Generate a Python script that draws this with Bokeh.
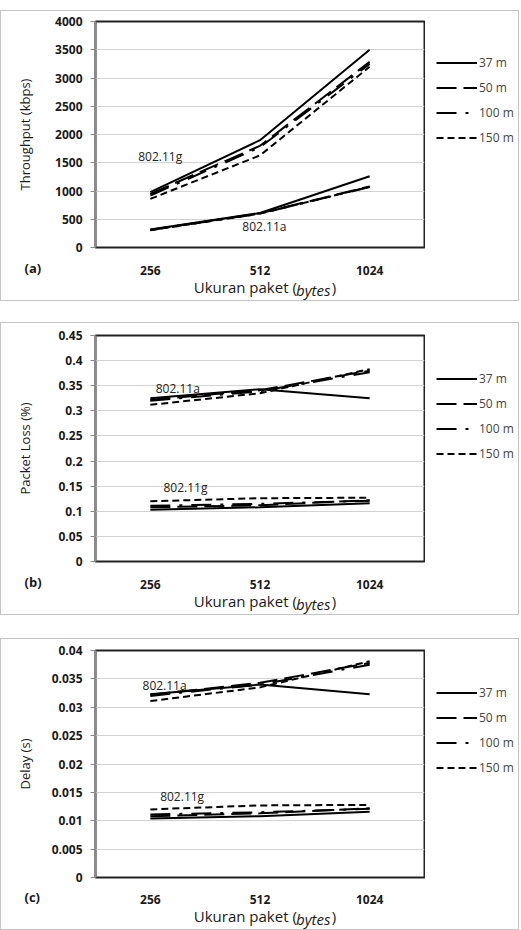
from bokeh.plotting import figure
from bokeh.models import (FixedTicker, CustomJSTickFormatter, Legend, LegendItem,
                          Label, Range1d, Spacer, LinearAxis, Title)
from bokeh.layouts import column, row
from bokeh.embed import file_html
from bokeh.resources import INLINE

# ---------------- data ----------------
packet_sizes = ["256", "512", "1024"]
distances = ["37 m", "50 m", "100 m", "150 m"]

# Throughput (kbps), rows = distances
thr_g = [[980, 1900, 3500], [950, 1800, 3285], [920, 1775, 3250], [860, 1630, 3200]]
thr_a = [[320, 610, 1260], [315, 605, 1080], [310, 600, 1070], [305, 600, 1075]]

# Packet loss (%)
loss_a = [[0.325, 0.343, 0.325], [0.322, 0.341, 0.380], [0.320, 0.339, 0.377], [0.312, 0.335, 0.383]]
loss_g = [[0.103, 0.108, 0.116], [0.108, 0.112, 0.122], [0.111, 0.115, 0.121], [0.120, 0.126, 0.127]]

# Delay (s)
delay_a = [[0.0323, 0.0340, 0.0323], [0.0322, 0.0343, 0.0378], [0.0320, 0.0340, 0.0375], [0.0311, 0.0335, 0.0381]]
delay_g = [[0.0104, 0.0108, 0.0116], [0.0108, 0.0113, 0.0122], [0.0111, 0.0115, 0.0121], [0.0120, 0.0127, 0.0128]]

y_max = [4000, 0.45, 0.04]
y_step = [500, 0.05, 0.005]
y_titles = ["Throughput (kbps)", "Packet Loss (%)", "Delay (s)"]
panel_tags = ["(a)", "(b)", "(c)"]
x_title = ["Ukuran paket (", "bytes", ")"]

# ---------------- styling ----------------
dashes = ["solid", "20 7", "20 9 3 9", "7 4"]
FONT = "Open Sans"
FRAME_W = 329
ML = 94
MR = 2
W_MAIN = ML + FRAME_W + MR
W_LEG = 94
TXT = "#1a1a1a"
BORDER = "1px solid #c4c4c4"
BELOW = 52  # height taken by the stacked x-axis rows


def make_panel(series_up, series_low, ymax, ystep, ytitle, tag, std_up, std_low,
               pos_up, pos_low, top, frame_h, standoff, legend_top,
               tag_gap, title_shift):
    canvas_h = top + frame_h + BELOW
    n_cat = len(packet_sizes)
    # the 1px border is drawn inside the element, so add it to the height
    p = figure(width=W_MAIN, height=canvas_h + 2, output_backend="svg", toolbar_location=None,
               x_range=Range1d(0, n_cat), y_range=Range1d(0, ymax),
               min_border_left=ML, min_border_right=MR,
               min_border_top=top, min_border_bottom=0)
    p.styles = {"border": BORDER, "border-right": "none"}
    xs = [i + 0.5 for i in range(n_cat)]

    for k in range(len(distances)):
        p.line(xs, series_up[k], line_color="black", line_width=2, line_dash=dashes[k])
        p.line(xs, series_low[k], line_color="black", line_width=2, line_dash=dashes[k])

    # x axis: category labels
    xaxis = p.xaxis[0]
    xaxis.ticker = FixedTicker(ticks=xs)
    xaxis.major_label_overrides = dict(zip(xs, packet_sizes))
    xaxis.axis_line_color = None
    xaxis.major_tick_line_color = None
    xaxis.major_tick_out = 0
    xaxis.major_tick_in = 0
    xaxis.minor_tick_line_color = None

    n = int(round(ymax / ystep))
    p.yaxis.ticker = FixedTicker(ticks=[round(i * ystep, 6) for i in range(n + 1)])
    p.yaxis.formatter = CustomJSTickFormatter(code="return String(Math.round(tick*1e6)/1e6)")
    p.yaxis.axis_line_color = "#8a8a8a"
    p.yaxis.axis_line_width = 2
    p.yaxis.major_tick_line_color = "#8a8a8a"
    p.yaxis.major_tick_in = 0
    p.yaxis.major_tick_out = 5
    p.yaxis.minor_tick_line_color = None
    p.yaxis.major_label_standoff = 8
    for ax in (p.xaxis, p.yaxis):
        ax.major_label_text_font = FONT
        ax.major_label_text_font_style = "bold"
        ax.major_label_text_font_size = "12px"
        ax.major_label_text_color = TXT
    p.yaxis.axis_label = ytitle
    p.yaxis.axis_label_text_font = FONT
    p.yaxis.axis_label_text_font_style = "normal"
    p.yaxis.axis_label_text_font_size = "13px"
    p.yaxis.axis_label_text_color = TXT
    p.yaxis.axis_label_standoff = standoff

    # panel tag "(a)" as a left-aligned title right under the plot area
    tag_title = Title(text=tag, align="left", offset=-71, standoff=tag_gap,
                      vertical_align="bottom", text_font=FONT, text_font_size="13px",
                      text_font_style="bold", text_color=TXT)
    # pull the category labels back up onto the tag's row
    xaxis.major_label_standoff = -20

    # x-axis title from two label-only axes (plain part + italic part on the same row)
    px_per_x = FRAME_W / n_cat
    fs = 15
    w_plain, w_ital, w_close = 6.845 * fs, 2.354 * fs, 0.275 * fs
    total = w_plain + w_ital + w_close
    start = (264.5 - 95) - total / 2
    c1 = round((start + w_plain / 2) / px_per_x, 4)
    c2 = round((start + w_plain - 1 + w_ital / 2) / px_per_x, 4)
    c3 = round((start + w_plain + w_ital + w_close / 2) / px_per_x, 4)
    xa_plain = LinearAxis(ticker=FixedTicker(ticks=[c1, c3]),
                          major_label_overrides={c1: x_title[0], c3: x_title[2]})
    xa_ital = LinearAxis(ticker=FixedTicker(ticks=[c2]),
                         major_label_overrides={c2: x_title[1]})
    for ax, style in ((xa_plain, "normal"), (xa_ital, "italic")):
        ax.axis_line_color = None
        ax.major_tick_line_color = None
        ax.minor_tick_line_color = None
        ax.major_tick_in = 0
        ax.major_tick_out = 0
        ax.major_label_text_font = FONT
        ax.major_label_text_font_size = f"{fs}px"
        ax.major_label_text_font_style = style
        ax.major_label_text_color = TXT
    xa_plain.major_label_standoff = title_shift
    xa_ital.major_label_standoff = -20
    p.below = [tag_title, xaxis, xa_plain, xa_ital]

    p.xgrid.grid_line_color = None
    p.ygrid.grid_line_color = "#d2d2d2"
    p.ygrid.grid_line_width = 1
    p.outline_line_color = "#222222"
    p.outline_line_width = 2
    p.background_fill_color = "white"
    p.border_fill_color = "white"

    # series annotations (inside the plot area)
    for txt, (lx, ly) in ((std_up, pos_up), (std_low, pos_low)):
        p.add_layout(Label(x=lx, y=ly, text=txt, text_font=FONT, text_font_size="12px",
                           text_color="#222222", text_align="center",
                           text_baseline="middle"))

    # legend lives in its own small figure to the right of the plot
    q = figure(width=W_LEG, height=canvas_h + 2, output_backend="svg", toolbar_location=None,
               x_range=Range1d(-2, -1), y_range=Range1d(-2, -1),
               x_axis_location=None, y_axis_location=None, min_border=0)
    q.styles = {"border": BORDER, "border-left": "none"}
    q.grid.visible = False
    q.outline_line_color = None
    q.border_fill_color = "white"
    q.background_fill_color = "white"
    legend_renderers = [q.line(xs, series_up[k], line_color="black", line_width=2,
                               line_dash=dashes[k]) for k in range(len(distances))]
    leg_h = 4 * 17 + 3 * 8
    legend = Legend(items=[LegendItem(label=d, renderers=[r])
                           for d, r in zip(distances, legend_renderers)],
                    location=(11, frame_h - (legend_top - top) - leg_h), orientation="vertical",
                    glyph_width=41, glyph_height=17, label_height=17, label_width=10,
                    spacing=8, padding=0, margin=0,
                    label_standoff=2, label_text_font=FONT, label_text_font_size="12px",
                    label_text_color="#444444", border_line_alpha=0,
                    background_fill_alpha=0)
    q.add_layout(legend, "center")
    return row(p, q)


ra = make_panel(thr_g, thr_a, y_max[0], y_step[0], y_titles[0], panel_tags[0],
                "802.11g", "802.11a", (0.59, 1603), (1.54, 370),
                top=10, frame_h=227, standoff=18, legend_top=44,
                tag_gap=18, title_shift=-9)
rb = make_panel(loss_a, loss_g, y_max[1], y_step[1], y_titles[1], panel_tags[1],
                "802.11a", "802.11g", (0.75, 0.345), (0.82, 0.147),
                top=12, frame_h=227, standoff=21, legend_top=47.5,
                tag_gap=18, title_shift=-9)
rc = make_panel(delay_a, delay_g, y_max[2], y_step[2], y_titles[2], panel_tags[2],
                "802.11a", "802.11g", (0.63, 0.0339), (0.79, 0.0142),
                top=11, frame_h=227, standoff=15, legend_top=44.5,
                tag_gap=17, title_shift=-9)

layout = column(Spacer(height=10), ra, Spacer(height=21), rb, Spacer(height=23), rc)

open("out.html", "w").write(file_html(layout, INLINE))
